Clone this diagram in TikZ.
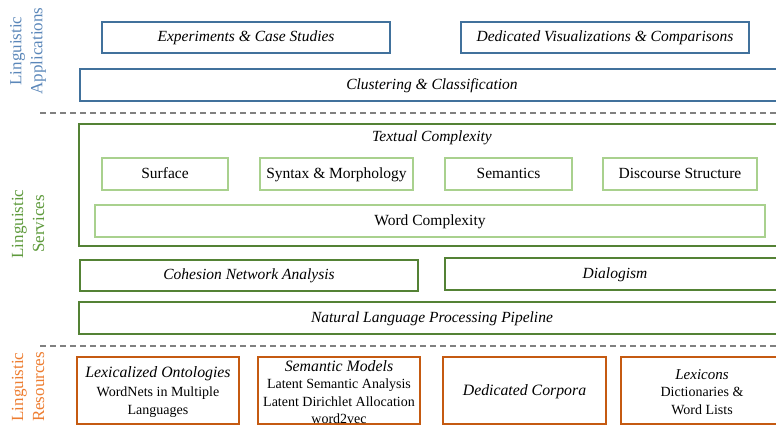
\documentclass[tikz,border=0pt]{standalone}
\usepackage{fontspec}
\setmainfont{Liberation Serif}
\definecolor{appblue}{HTML}{41719C}
\definecolor{applabel}{HTML}{5B87B9}
\definecolor{srvgreen}{HTML}{548235}
\definecolor{srvlight}{HTML}{A9D18E}
\definecolor{srvlabel}{HTML}{5E9A3C}
\definecolor{resorange}{HTML}{C55A11}
\definecolor{reslabel}{HTML}{ED7D31}
\definecolor{dashgray}{HTML}{808080}
\newcommand{\bigit}[1]{{\fontsize{15.8}{17}\selectfont\itshape #1}}
\begin{document}
\begin{tikzpicture}[x=1pt,y=-1pt,
  fnt/.style={font=\fontsize{15.5}{18}\selectfont},
  lbl/.style={fnt, inner sep=0pt, text height=10.5pt, text depth=3.5pt},
  box/.style={draw, line width=1.8pt, inner sep=0pt},
  appbox/.style={box, draw=appblue},
  srvbox/.style={box, draw=srvgreen},
  inbox/.style={draw=srvlight, line width=1.2pt},
  resbox/.style={draw=resorange, line width=1.8pt, inner sep=0pt},
  restext/.style={align=center, inner sep=0pt},
  sidelabel/.style={rotate=90, align=center, font=\fontsize{17}{21}\selectfont, inner sep=0pt},
  sep/.style={draw=dashgray, line width=1.4pt, dash pattern=on 6pt off 4pt}]
\useasboundingbox (0,0) rectangle (776,426);
\clip (0,0) rectangle (776,426);

% separators
\coordinate (s1a) at (40,113); \coordinate (s1b) at (780,113);
\coordinate (s2a) at (40,346); \coordinate (s2b) at (780,346);
\draw[sep] (s1a) -- (s1b);
\draw[sep] (s2a) -- (s2b);

% side labels
\node[sidelabel, text=applabel] (lapp) at (28,51) {Linguistic\\Applications};
\node[sidelabel, text=srvlabel] (lsrv) at (28,224) {Linguistic\\Services};
\node[sidelabel, text=reslabel] (lres) at (28,387) {Linguistic\\Resources};

% applications
\node[appbox, minimum width=288pt, minimum height=31pt] (exp) at (246,37.5) {};
\node[lbl, font=\fontsize{15.5}{18}\selectfont\itshape] (expt) at (246,38) {Experiments \& Case Studies};
\node[appbox, minimum width=288pt, minimum height=31pt] (vis) at (605,37.5) {};
\node[lbl, font=\fontsize{15.5}{18}\selectfont\itshape] (vist) at (605,38) {Dedicated Visualizations \& Comparisons};
\node[appbox, minimum width=702pt, minimum height=32pt] (clu) at (431,85) {};
\node[lbl, font=\fontsize{15.5}{18}\selectfont\itshape] (clut) at (432,86) {Clustering \& Classification};

% services
\node[srvbox, minimum width=703pt, minimum height=122pt] (tc) at (430.5,185) {};
\node[lbl, font=\fontsize{15.5}{18}\selectfont\itshape] (tct) at (432,138) {Textual Complexity};
\node[inbox, minimum width=126pt, minimum height=32pt] (sur) at (165,174) {};
\node[lbl] (surt) at (165,175) {Surface};
\node[inbox, minimum width=153pt, minimum height=32pt] (syn) at (336.5,174) {};
\node[lbl] (synt) at (336.5,175) {Syntax \& Morphology};
\node[inbox, minimum width=127pt, minimum height=32pt] (sem) at (508.5,174) {};
\node[lbl] (semt) at (508.5,175) {Semantics};
\node[inbox, minimum width=154pt, minimum height=32pt] (dis) at (680,174) {};
\node[lbl] (dist) at (680,175) {Discourse Structure};
\node[inbox, minimum width=670pt, minimum height=32pt] (wc) at (430,221) {};
\node[lbl] (wct) at (430,222) {Word Complexity};
\node[srvbox, minimum width=338pt, minimum height=31pt] (cna) at (249,275.5) {};
\node[lbl, font=\fontsize{15.5}{18}\selectfont\itshape] (cnat) at (249,276) {Cohesion Network Analysis};
\node[srvbox, minimum width=335pt, minimum height=32pt] (dia) at (612.5,274) {};
\node[lbl, font=\fontsize{15.5}{18}\selectfont\itshape] (diat) at (615,274.5) {Dialogism};
\node[srvbox, minimum width=702pt, minimum height=32pt] (nlp) at (430,318) {};
\node[lbl, font=\fontsize{15.5}{18}\selectfont\itshape] (nlpt) at (432,319) {Natural Language Processing Pipeline};

% resources
\node[resbox, minimum width=162pt, minimum height=67pt] (lex) at (158,390.5) {};
\node[restext, font=\fontsize{14}{18.5}\selectfont] (lext) at (158,392.5) {\bigit{Lexicalized Ontologies}\\WordNets in Multiple\\Languages};
\node[resbox, minimum width=162pt, minimum height=67pt] (sm) at (339,390.5) {};
\node[restext, font=\fontsize{14}{17.2}\selectfont] (smt) at (339,392) {\bigit{Semantic Models}\\Latent Semantic Analysis\\Latent Dirichlet Allocation\\word2vec};
\node[resbox, minimum width=163pt, minimum height=67pt] (dc) at (524.5,390.5) {};
\node[lbl, font=\fontsize{15.8}{18}\selectfont\itshape] (dct) at (524.5,392) {Dedicated Corpora};
\node[resbox, minimum width=162pt, minimum height=67pt] (lx) at (702,390.5) {};
\node[restext, font=\fontsize{14}{17.5}\selectfont] (lxt) at (702,392) {{\fontsize{15}{17}\selectfont\itshape Lexicons}\\Dictionaries \&\\Word Lists};
\end{tikzpicture}
\end{document}
